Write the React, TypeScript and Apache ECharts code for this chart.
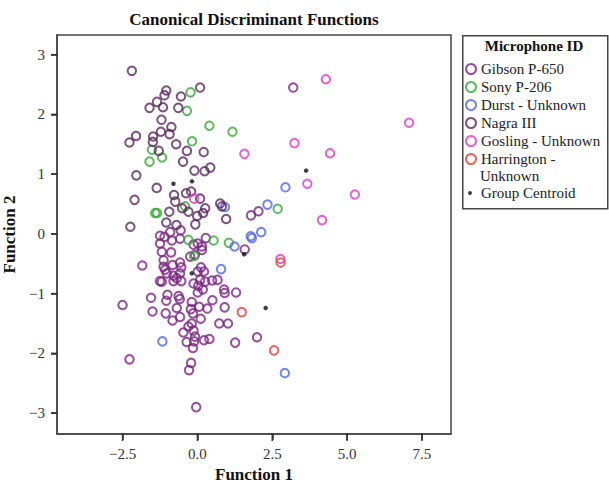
import React, { useEffect, useRef } from 'react';
import * as echarts from 'echarts';

const FONT = 'Liberation Serif';

const xTicks = [-2.5, 0, 2.5, 5, 7.5];
const yTicks = [-3, -2, -1, 0, 1, 2, 3];
const X_MIN = -4.69;
const X_MAX = 8.47;
const Y_MIN = -3.35;
const Y_MAX = 3.33;

const gibson: [number, number][] = [
  [3.20, 2.45], [1.79, 0.31], [2.04, 0.38], [1.58, -0.26],
  [-1.25, -0.03], [-0.91, 0.03], [-0.56, 0.06], [0.28, -0.07], [0.15, -0.21], [-1.25, -0.16],
  [-1.10, -0.05], [-0.85, -0.11], [-0.58, -0.08], [-0.13, -0.18], [0.01, -0.16], [0.15, -0.27],
  [-1.19, -0.30], [-0.88, -0.31], [-0.24, -0.38], [-0.08, -0.35], [-1.84, -0.53], [-1.13, -0.44],
  [-1.13, -0.55], [-0.83, -0.52], [-0.58, -0.48], [-0.54, -0.56], [0.12, -0.56], [0.22, -0.63],
  [0.01, -0.63], [-1.02, -0.66], [-0.80, -0.70], [-0.58, -0.66], [-1.08, -0.60], [-0.69, -0.74],
  [-1.25, -0.79], [-1.19, -0.80], [-0.80, -0.79], [-0.54, -0.79], [-0.13, -0.83], [0.03, -0.87],
  [0.09, -0.77], [0.26, -0.80], [0.49, -0.78], [0.67, -0.77], [0.18, -0.93], [0.89, -0.93],
  [0.91, -0.99], [1.29, -0.98], [0.50, -1.11], [0.91, -1.23], [0.33, -1.25], [-2.50, -1.19],
  [-1.55, -1.07], [-1.50, -1.30], [-1.00, -1.02], [-1.04, -1.12], [-1.06, -1.33], [-0.63, -1.04],
  [-0.59, -1.09], [-0.69, -1.24], [-0.58, -1.39], [-0.83, -1.45], [-0.19, -1.14], [0.01, -0.98],
  [0.06, -1.22], [-0.22, -1.26], [-0.15, -1.33], [0.11, -1.42], [0.73, -1.50], [1.02, -1.50],
  [-0.47, -1.65], [-0.30, -1.55], [-0.19, -1.50], [-0.13, -1.62], [-0.08, -1.72], [-0.36, -1.81],
  [-0.11, -1.80], [-0.15, -1.91], [0.22, -1.78], [0.40, -1.76], [1.26, -1.82], [1.99, -1.73],
  [-2.27, -2.10], [-0.21, -2.16], [-0.28, -2.28], [-0.04, -2.90],
];

const sony: [number, number][] = [
  [-0.23, 2.37], [-0.35, 2.06], [0.40, 1.81], [1.17, 1.71], [-0.18, 1.55], [-1.52, 1.41],
  [-1.18, 1.28], [-1.60, 1.21], [-1.41, 0.35], [-1.35, 0.35], [-0.41, 0.46], [-0.30, -0.10],
  [0.54, -0.11], [1.05, -0.15], [2.68, 0.42], [-0.11, -0.37],
];

const durst: [number, number][] = [
  [0.92, 0.45], [2.34, 0.49], [2.94, 0.78], [2.13, 0.03], [1.78, -0.04], [1.82, -0.07],
  [1.24, -0.21], [0.79, -0.59], [-1.17, -1.80], [2.92, -2.33],
];

const nagra: [number, number][] = [
  [-2.19, 2.73], [-1.04, 2.40], [-1.10, 2.32], [-0.55, 2.30], [0.09, 2.45], [-1.35, 2.21],
  [-1.60, 2.11], [-1.15, 2.12], [-0.64, 2.11], [-1.20, 1.91], [-0.87, 1.79], [-1.22, 1.71],
  [-0.93, 1.67], [-2.05, 1.64], [-2.27, 1.53], [-1.48, 1.63], [-1.49, 1.54], [-0.71, 1.50],
  [-1.29, 1.39], [-0.35, 1.39], [0.21, 1.37], [-0.48, 1.21], [-0.10, 1.06], [0.24, 1.05],
  [0.43, 1.11], [-2.04, 0.98], [-1.36, 0.77], [-0.21, 0.71], [-0.78, 0.65], [-0.74, 0.54],
  [-0.38, 0.68], [0.09, 0.59], [-2.10, 0.57], [0.76, 0.51], [0.82, 0.46], [0.26, 0.43],
  [0.19, 0.35], [0.96, 0.25], [-0.01, 0.30], [-0.94, 0.37], [-0.51, 0.43], [-0.30, 0.37],
  [-2.24, 0.12], [-1.04, 0.19], [-0.70, 0.15], [-0.07, 0.16],
];

const gosling: [number, number][] = [
  [4.29, 2.59], [7.07, 1.86], [3.24, 1.52], [1.57, 1.34], [4.43, 1.35], [3.67, 0.84],
  [5.26, 0.66], [4.16, 0.23], [-0.11, 0.59], [2.77, -0.42],
];

const harrington: [number, number][] = [
  [2.78, -0.48], [1.48, -1.31], [2.56, -1.95],
];

const centroids: [number, number][] = [
  [-0.80, 0.84], [-0.18, 0.88], [3.63, 1.06], [1.56, -0.34], [-0.19, -0.66], [2.28, -1.24],
];

const groupNames = [
  'Gibson P-650', 'Sony P-206', 'Durst - Unknown', 'Nagra III', 'Gosling - Unknown', 'Harrington - Unknown',
];
const groupColors = ['#7a2582', '#38a838', '#5266ee', '#5a2a5e', '#e03cc4', '#e2413a'];
const groupData = [gibson, sony, durst, nagra, gosling, harrington];

const minus = (s: string) => s.replace('-', '\u2212');

export default function App() {
  const ref = useRef<HTMLDivElement>(null);
  useEffect(() => {
    const chart = echarts.init(ref.current!, null, { renderer: 'svg' });
    const ringSeries = groupNames.map((name, i) => ({
      type: 'scatter',
      name,
      data: groupData[i],
      symbol: 'circle',
      symbolSize: 8.5,
      itemStyle: { color: 'rgba(0,0,0,0)', borderColor: groupColors[i], borderWidth: 2 },
      emphasis: { disabled: true },
    }));
    const tickLineStyle = { stroke: '#333', lineWidth: 1.5 };
    const tickSeries = [
      {
        type: 'custom', name: 'x-ticks', silent: true, clip: false, z: 10,
        data: xTicks.map((v) => [v, Y_MIN]),
        renderItem: (_p: any, api: any) => {
          const c = api.coord([api.value(0), api.value(1)]);
          return { type: 'line', shape: { x1: c[0], y1: c[1] - 1, x2: c[0], y2: c[1] + 7 }, style: tickLineStyle };
        },
      },
      {
        type: 'custom', name: 'y-ticks', silent: true, clip: false, z: 10,
        data: yTicks.map((v) => [X_MIN, v]),
        renderItem: (_p: any, api: any) => {
          const c = api.coord([api.value(0), api.value(1)]);
          return { type: 'line', shape: { x1: c[0] - 6, y1: c[1], x2: c[0] + 1, y2: c[1] }, style: tickLineStyle };
        },
      },
    ];
    const axisLine = { show: true, onZero: false, lineStyle: { color: '#444', width: 1.5 } };
    const option: any = {
      animation: false,
      backgroundColor: '#fff',
      textStyle: { fontFamily: FONT },
      title: {
        text: 'Canonical Discriminant Functions',
        left: 254,
        top: 11,
        textAlign: 'center',
        padding: 0,
        textStyle: { fontFamily: FONT, fontSize: 17, fontWeight: 'bold', color: '#111' },
      },
      grid: {
        left: 57, right: 158, top: 35, bottom: 49,
        show: true, borderColor: '#444', borderWidth: 1.5,
        containLabel: false, outerBoundsMode: 'none',
      },
      xAxis: {
        type: 'value', min: X_MIN, max: X_MAX,
        splitLine: { show: false },
        axisLine,
        axisTick: { show: true, inside: false, length: 6, customValues: xTicks, lineStyle: { color: '#333', width: 1.5 } },
        axisLabel: {
          customValues: xTicks, margin: 12,
          formatter: (v: number) => minus(v.toFixed(1)),
          fontFamily: FONT, fontSize: 15, color: '#333',
        },
        name: 'Function 1', nameLocation: 'middle', nameGap: 30,
        nameTextStyle: { fontFamily: FONT, fontSize: 17, fontWeight: 'bold', color: '#111' },
      },
      yAxis: {
        type: 'value', min: Y_MIN, max: Y_MAX,
        splitLine: { show: false },
        axisLine,
        axisTick: { show: true, inside: false, length: 6, customValues: yTicks, lineStyle: { color: '#333', width: 1.5 } },
        axisLabel: {
          customValues: yTicks, margin: 12,
          formatter: (v: number) => minus(String(v)),
          fontFamily: FONT, fontSize: 15, color: '#333',
        },
        name: 'Function 2', nameLocation: 'middle', nameGap: 28,
        nameTextStyle: { fontFamily: FONT, fontSize: 17, fontWeight: 'bold', color: '#111' },
      },
      legend: [
        {
          orient: 'vertical', left: 465, top: 61, padding: 0,
          itemWidth: 10, itemHeight: 10, itemGap: 2,
          data: groupNames,
          formatter: (n: string) => (n === 'Harrington - Unknown' ? 'Harrington -' : n),
          textStyle: { fontFamily: FONT, fontSize: 15, color: '#222', lineHeight: 16 },
          selectedMode: false,
        },
        {
          orient: 'vertical', left: 468, top: 185, padding: 0,
          itemWidth: 4, itemHeight: 4,
          data: [{ name: 'Group Centroid', icon: 'circle', itemStyle: { color: '#111', borderWidth: 0 } }],
          textStyle: { fontFamily: FONT, fontSize: 15, color: '#222', lineHeight: 16, padding: [0, 0, 0, 4] },
          selectedMode: false,
        },
      ],
      graphic: [
        {
          type: 'rect', left: 462, top: 35, z: -1,
          shape: { width: 145, height: 173 },
          style: { fill: '#fff', stroke: '#444', lineWidth: 1.5 },
        },
        {
          type: 'text', x: 534, y: 46,
          style: { text: 'Microphone ID', fontFamily: FONT, fontSize: 15, fontWeight: 'bold', fill: '#111', align: 'center', verticalAlign: 'middle' },
        },
        {
          type: 'text', x: 480, y: 176,
          style: { text: 'Unknown', fontFamily: FONT, fontSize: 15, fill: '#222', align: 'left', verticalAlign: 'middle' },
        },
      ],
      series: [
        ...tickSeries,
        ...ringSeries,
        {
          type: 'scatter', name: 'Group Centroid', data: centroids,
          symbol: 'circle', symbolSize: 4.5,
          itemStyle: { color: '#111' }, z: 5,
          emphasis: { disabled: true },
        },
      ],
    };
    chart.setOption(option);
    return () => chart.dispose();
  }, []);
  return <div ref={ref} style={{ position: 'absolute', left: 0, top: 0, width: 609, height: 483 }} />;
}
